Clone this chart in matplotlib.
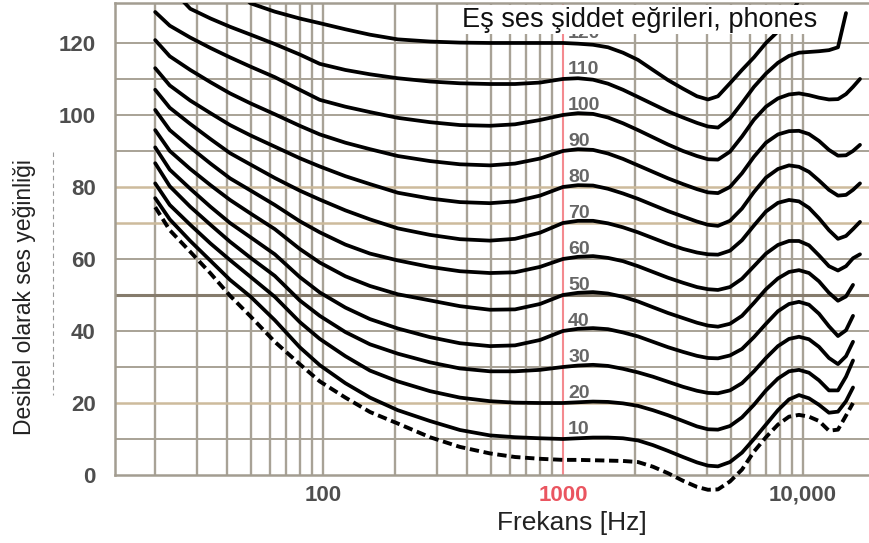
import numpy as np
import matplotlib
matplotlib.use("Agg")
import matplotlib.pyplot as plt
from matplotlib.patches import Rectangle
from matplotlib.lines import Line2D

plt.rcParams['font.family'] = ['Liberation Sans', 'DejaVu Sans']

nan = np.nan

freq_hz = [20, 23, 28, 34, 41, 50, 63, 80, 97, 124, 157, 205, 279, 372, 496, 631, 802,
           1000, 1155, 1334, 1540, 1778, 2054, 2371, 2738, 3162, 3616, 4019, 4424,
           4963, 5569, 6248, 7011, 7866, 8746, 9624, 10593, 11659, 12832, 13990,
           15110, 16160, 17280]

# hearing threshold (dashed) and equal loudness contours, dB
threshold = [74.4, 68, 62, 56, 49.8, 44, 37, 30.8, 26, 21.5, 17.5, 14.3, 10.5, 7.8, 6,
             5, 4.5, 4.2, 4.2, 4.1, 4.0, 3.9, 3.6, 2.3, 0.5, -1.6, -3.3, -4.1, -4.0,
             -1.8, 1.5, 6.5, 10.5, 14, 16.2, 16.7, 16.2, 15, 12.3, 12.6, 16.5, 20, nan]
phon_10 = [76.9, 71, 65, 59.5, 54.2, 49.5, 43, 35.5, 30.5, 25.5, 21.5, 18, 15, 12.5,
           11, 10.5, 10.2, 10, 10.2, 10.4, 10.4, 10.2, 9.6, 8.3, 6.7, 5, 3.5, 2.6, 2.4,
           3.6, 6.2, 10, 14, 18, 21, 22.2, 21.3, 19.5, 17.3, 17.6, 20.5, 24.3, nan]
phon_20 = [81, 75, 69.5, 64.3, 59.7, 55, 49.5, 42.5, 37.8, 33, 29, 26, 23.3, 21.5,
           20.5, 20.1, 20, 20, 20.2, 20.4, 20.3, 19.9, 19.2, 18, 16.6, 15, 13.5, 12.7,
           12.6, 13.6, 16, 19.5, 23.5, 26.8, 28.8, 29.2, 28.4, 26.3, 23.5, 23.5, 27.3,
           31.8, nan]
phon_30 = [86.6, 80.2, 74.5, 69.5, 64.8, 60.3, 55.3, 48.5, 44.2, 39.7, 36.3, 33.7,
           31.3, 29.6, 28.8, 28.8, 29.2, 30, 30.4, 30.6, 30.3, 29.5, 28.5, 27.3, 25.9,
           24.5, 23.4, 22.8, 22.7, 23.5, 25.5, 28.8, 32.5, 35.8, 37.8, 38.4, 37.7,
           35.6, 32.5, 30.8, 33, 37, nan]
phon_40 = [91, 84.8, 79.5, 74.5, 70, 66, 61.3, 55, 50.7, 46.5, 43.3, 40.7, 38.3, 36.6,
           35.8, 36, 37.5, 40, 40.6, 40.8, 40.5, 39.6, 38.5, 37, 35.5, 34.2, 33.1, 32.5,
           32.4, 33.2, 35, 38.3, 42, 45.5, 47.5, 48.1, 47.3, 44.8, 41.3, 38.6, 40.2,
           44.2, nan]
phon_50 = [95.8, 90, 85, 80.5, 76.4, 72.6, 68.3, 62.8, 59, 55.2, 52.5, 50.2, 48.5,
           46.9, 45.9, 46, 47.5, 50, 50.6, 50.8, 50.4, 49.5, 48.2, 46.6, 45, 43.6, 42.3,
           41.5, 41.2, 42, 44.2, 47.8, 51.6, 54.6, 56.4, 56.9, 56.1, 53.8, 50.6, 48.4,
           49.6, 52.8, nan]
phon_60 = [101.4, 95.8, 91, 86.5, 82.4, 79, 75, 70.5, 67.4, 64, 61.5, 59.6, 57.8,
           56.6, 56.1, 56.3, 57.8, 60, 60.6, 60.8, 60.3, 59.4, 58, 56.4, 54.8, 53.4,
           52.2, 51.6, 51.4, 52.2, 54.5, 58, 61.5, 63.9, 65, 65, 63.8, 61, 58, 56.8,
           58, 60.2, 61.3]
phon_70 = [107, 102, 97.5, 93.3, 89.4, 86.2, 82.5, 79, 76.5, 73.5, 71, 68.5, 66.7,
           65.5, 65.1, 65.6, 67.3, 70, 70.6, 70.6, 69.9, 68.8, 67.4, 65.8, 64.2, 62.8,
           61.8, 61.3, 61.2, 62.3, 65.2, 69.3, 73.2, 75.6, 76.4, 76, 74.2, 71.3, 68,
           65.6, 66.4, 68.3, 70.3]
phon_80 = [113, 108.2, 104, 100.5, 97.2, 94.3, 91.2, 88, 85.7, 83, 80.8, 78.4, 76.8,
           75.8, 75.5, 76, 77.6, 80, 80.5, 80.4, 79.5, 78.2, 76.7, 75, 73.3, 71.8, 70.4,
           69.5, 69.2, 70.6, 74, 78.6, 82.6, 85, 86, 85.6, 84.2, 81.8, 79.2, 77.6,
           77.8, 79.2, 81]
phon_90 = [120.8, 116.3, 112.5, 109.1, 106, 103.2, 100.2, 97, 94.6, 92.3, 90.5, 88.6,
           87.2, 86.3, 86, 86.5, 87.9, 90, 90.5, 90.3, 89.3, 87.8, 86, 84.2, 82.4, 80.8,
           79.4, 78.5, 78.3, 80, 83.8, 88.4, 92.3, 94.6, 95.5, 95.6, 94.7, 92.8, 90.3,
           88.7, 88.8, 90, 91.7]
phon_100 = [128.6, 124.8, 121.5, 118.6, 116, 113.4, 110.5, 107, 104.2, 102.3, 100.8,
            99.2, 98, 97.2, 97, 97.4, 98.6, 100, 100.5, 100.3, 99.3, 97.7, 95.8, 93.8,
            91.8, 90, 88.6, 87.7, 87.6, 89.8, 94, 98.7, 102.3, 104.6, 105.7, 106,
            105.5, 104.8, 104.3, 104.4, 105.8, 107.8, 110]
phon_110 = [140, 135.5, 129.5, 126.8, 124.5, 122.3, 119.7, 116.8, 114.2, 112.5, 111.3,
            110.2, 109.3, 108.8, 108.6, 108.6, 109, 110, 110.2, 109.8, 108.7, 107, 105,
            103, 101, 99.3, 97.8, 96.8, 96.5, 99, 103.3, 107.8, 111.5, 114.5, 116.4,
            117.3, 117.5, 117.7, 118, 118.8, 128.3, nan, nan]
phon_120 = [nan, nan, nan, nan, 136, 131, 128.7, 126.8, 125.5, 123.8, 122.3, 121,
            120.4, 120.1, 120, 120, 120, 120, 119.8, 119.5, 118.8, 117.3, 115.3, 112.5,
            109.7, 107.3, 105.2, 104.3, 105.2, 108.8, 112.5, 116, 120, 123.2, 127, 132,
            nan, nan, nan, nan, nan, nan, nan]

phon_levels = [10, 20, 30, 40, 50, 60, 70, 80, 90, 100, 110, 120]
phon_curves = [phon_10, phon_20, phon_30, phon_40, phon_50, phon_60, phon_70,
               phon_80, phon_90, phon_100, phon_110, phon_120]

y_ticks = [0, 20, 40, 60, 80, 100, 120]
x_ticks = [100, 1000, 10000]
x_tick_labels = ["100", "1000", "10,000"]

fig = plt.figure(figsize=(8.69, 5.43), dpi=100)
ax = fig.add_axes([115 / 869, 1 - 475 / 543, 1 - 115 / 869, 472 / 543])
ax.set_xscale('log')
ax.set_xlim(13.6, 18840)
ax.set_ylim(0, 131.1)

# grid
grid_col = '#a8a296'
for dec in [10, 100, 1000]:
    for m in range(1, 10):
        f = dec * m
        if f < 20:
            continue
        if f == 1000:
            ax.axvline(f, color='#f48a8f', lw=1.5, zorder=1)
        else:
            ax.axvline(f, color=grid_col, lw=1.7, zorder=1)
ax.axvline(10000, color=grid_col, lw=1.7, zorder=1)
for lev in range(10, 121, 10):
    if lev in (20, 70, 80):
        ax.axhline(lev, color='#cdbb9c', lw=1.8, zorder=1)
    elif lev == 50:
        ax.axhline(lev, color='#857b6c', lw=2.2, zorder=1)
    else:
        ax.axhline(lev, color=grid_col, lw=1.4, zorder=1)

ax.spines['right'].set_visible(False)
for side in ['left', 'bottom', 'top']:
    ax.spines[side].set_color('#a39d91')
    ax.spines[side].set_linewidth(1.8)

# curves may dip below 0 dB, so clip only at the top and sides
clip = Rectangle((0, -0.2), 1, 1.2, transform=ax.transAxes, facecolor='none')

for lev, vals in zip(phon_levels, phon_curves):
    ln, = ax.plot(freq_hz, vals, color='black', lw=2.7, zorder=3,
                  solid_capstyle='round', solid_joinstyle='round')
    ln.set_clip_path(clip)
    ax.text(1050, lev + 2.7, str(lev), color='#666666', fontsize=14,
            fontweight='bold', va='center', ha='left', zorder=2)

ln, = ax.plot(freq_hz, threshold, color='black', lw=2.8, zorder=3,
              linestyle=(0, (2.4, 1.2)))
ln.set_clip_path(clip)

ax.set_yticks(y_ticks)
ax.set_yticklabels([str(v) for v in y_ticks])
ax.set_xticks(x_ticks)
ax.set_xticklabels(x_tick_labels)
ax.xaxis.set_minor_locator(matplotlib.ticker.NullLocator())
ax.tick_params(axis='both', length=0, labelsize=16, labelcolor='#4e4e4e')
ax.tick_params(axis='y', pad=14)
ax.tick_params(axis='x', pad=7)
for t in ax.get_xticklabels() + ax.get_yticklabels():
    t.set_fontweight('bold')
ax.get_xticklabels()[1].set_color('#ea5560')

# white panel behind the title hides the top of the 120 curve
fig.add_artist(Rectangle((455 / 869, 1 - 34 / 543), 380 / 869, 29 / 543,
                         transform=fig.transFigure, facecolor='white',
                         edgecolor='none', zorder=5))
fig.text(462 / 869, 1 - 20 / 543, "Eş ses şiddet eğrileri, phones", fontsize=19.5,
         ha='left', va='center', color='#111111', zorder=6)
fig.text(572 / 869, 1 - 523 / 543, "Frekans [Hz]", fontsize=19, ha='center',
         va='center', color='#222222')
fig.text(25 / 869, 1 - 297 / 543, "Desibel olarak ses yeğinliği", fontsize=16.5,
         rotation=90, ha='center', va='center', color='#222222')
fig.add_artist(Line2D([53 / 869, 53 / 869], [1 - 152 / 543, 1 - 395 / 543],
                      transform=fig.transFigure, color='#9a9a9a', lw=0.8,
                      linestyle=(0, (4, 3))))

fig.savefig('out.png', dpi=100)
